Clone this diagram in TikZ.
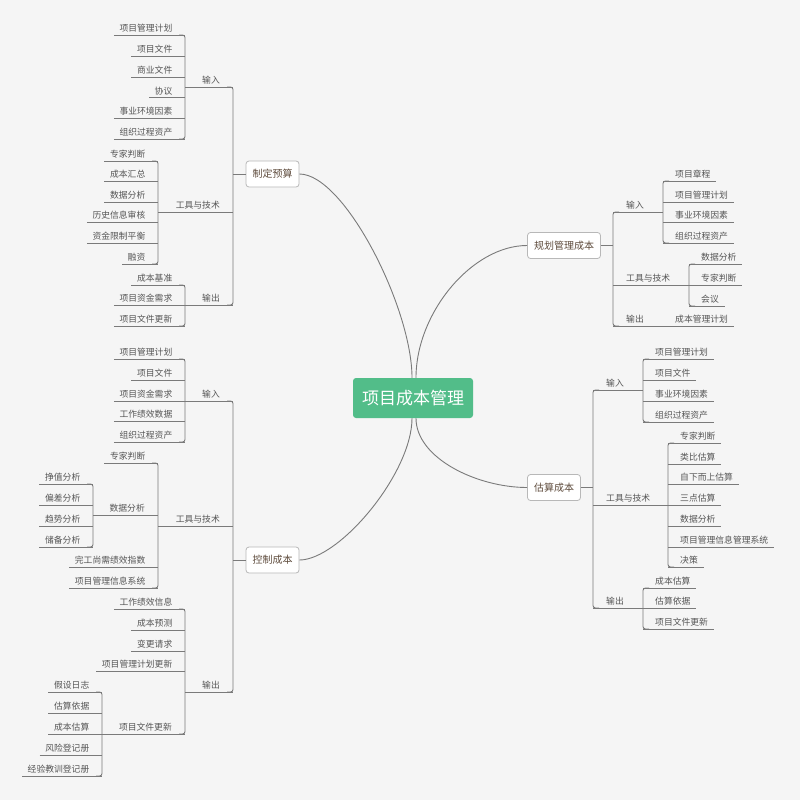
\documentclass[tikz,border=0pt]{standalone}
\usepackage{fontspec}
\setmainfont{Noto Sans CJK SC}
\usetikzlibrary{calc}
\definecolor{bg}{HTML}{F5F5F5}
\definecolor{lnc}{HTML}{7A7A7A}
\definecolor{leaftxt}{HTML}{555555}
\definecolor{brtxt}{HTML}{5E4B3C}
\definecolor{brbd}{HTML}{B8B8B8}
\definecolor{ctr}{HTML}{52BD89}
\tikzset{
  ln/.style={draw=lnc, line width=0.9pt},
  leaf/.style={inner sep=0pt, text=leaftxt, font=\fontsize{8.8}{10}\selectfont},
  cat/.style={inner sep=0pt, text=leaftxt, font=\fontsize{8.8}{10}\selectfont},
  branch/.style={draw=brbd, fill=white, rounded corners=3pt, line width=0.8pt, text=brtxt,
     font=\fontsize{10}{12}\selectfont, inner xsep=6.5pt, inner ysep=0pt, minimum height=26pt},
  center/.style={fill=ctr, rounded corners=3pt, text=white, font=\fontsize{17}{20}\selectfont,
     minimum width=120pt, minimum height=40pt, inner sep=0pt}
}
% left-side leaf: name, bracket x, line y, text
\newcommand\Lleaf[4]{%
  \node[leaf, anchor=base east] (#1) at (#2-12.5,#3-3.5) {#4};
  \draw[ln] ($(#1.base west)+(-5.5,3.5)$) -- (#2,#3);}
% right-side leaf
\newcommand\Rleaf[4]{%
  \node[leaf, anchor=base west] (#1) at (#2+12,#3-3.5) {#4};
  \draw[ln] (#2,#3) -- ($(#1.base east)+(5.5,3.5)$);}
% left-side category: name, parent bracket x, child bracket x, y, text
\newcommand\Lcat[5]{%
  \node[cat, anchor=base east] (#1) at (#2-13,#4-3.5) {#5};
  \draw[ln] (#3,#4) -- (#2,#4);}
\newcommand\Rcat[5]{%
  \node[cat, anchor=base west] (#1) at (#2+13,#4-3.5) {#5};
  \draw[ln] (#2,#4) -- (#3,#4);}
% brackets: x, top y, bottom y
\newcommand\Lbr[3]{\draw[ln, rounded corners=2.5pt] (#1-6,#2) -- (#1,#2) -- (#1,#3) -- (#1-6,#3);}
\newcommand\Rbr[3]{\draw[ln, rounded corners=2.5pt] (#1+6,#2) -- (#1,#2) -- (#1,#3) -- (#1+6,#3);}

\begin{document}
\begin{tikzpicture}[x=1pt,y=-1pt]
\fill[bg] (0,0) rectangle (800,800);
\useasboundingbox (0,0) rectangle (800,800);

\node[center] (c) at (413,398) {项目成本管理};
\node[branch] (b1) at (272.5,174) {制定预算};
\node[branch] (b2) at (564,245.5) {规划管理成本};
\node[branch] (b3) at (554,487.5) {估算成本};
\node[branch] (b4) at (272.5,560) {控制成本};

\draw[ln] ([xshift=-1pt]c.north) .. controls +(0,-70) and +(45,0) .. (b1.east);
\draw[ln] ([xshift=3pt]c.north) .. controls +(0,-65) and +(-55,0) .. (b2.west);
\draw[ln] ([xshift=-1pt]c.south) .. controls +(0,55) and +(40,0) .. (b4.east);
\draw[ln] ([xshift=3pt]c.south) .. controls +(0,40) and +(-50,0) .. (b3.west);

% ===== 制定预算 =====
\draw[ln] (b1.west) -- (233,174);
\Lbr{233}{87}{305}
\Lcat{a1}{233}{185}{87}{输入}
\Lcat{a2}{233}{158}{212}{工具与技术}
\Lcat{a3}{233}{185}{305}{输出}
\Lbr{185}{35}{139}
\Lleaf{a11}{185}{35}{项目管理计划}
\Lleaf{a12}{185}{56}{项目文件}
\Lleaf{a13}{185}{77}{商业文件}
\Lleaf{a14}{185}{97.5}{协议}
\Lleaf{a15}{185}{118}{事业环境因素}
\Lleaf{a16}{185}{139}{组织过程资产}
\Lbr{158}{161}{264}
\Lleaf{a21}{158}{161}{专家判断}
\Lleaf{a22}{158}{181}{成本汇总}
\Lleaf{a23}{158}{202}{数据分析}
\Lleaf{a24}{158}{222}{历史信息审核}
\Lleaf{a25}{158}{243}{资金限制平衡}
\Lleaf{a26}{158}{264}{融资}
\Lbr{185}{285}{326}
\Lleaf{a31}{185}{285}{成本基准}
\Lleaf{a32}{185}{305}{项目资金需求}
\Lleaf{a33}{185}{326}{项目文件更新}

% ===== 规划管理成本 =====
\draw[ln] (b2.east) -- (613,245.5);
\Rbr{613}{212}{326}
\Rcat{p1}{613}{663}{212}{输入}
\Rcat{p2}{613}{689}{285}{工具与技术}
\Rcat{p3}{613}{663}{326}{输出}
\Rbr{663}{181}{243}
\Rleaf{p11}{663}{181}{项目章程}
\Rleaf{p12}{663}{202}{项目管理计划}
\Rleaf{p13}{663}{222}{事业环境因素}
\Rleaf{p14}{663}{243}{组织过程资产}
\Rbr{689}{264}{306}
\Rleaf{p21}{689}{264}{数据分析}
\Rleaf{p22}{689}{285}{专家判断}
\Rleaf{p23}{689}{306}{会议}
\Rleaf{p31}{663}{326}{成本管理计划}

% ===== 估算成本 =====
\draw[ln] (b3.east) -- (593,487.5);
\Rbr{593}{390}{608}
\Rcat{e1}{593}{643}{390}{输入}
\Rcat{e2}{593}{668}{505}{工具与技术}
\Rcat{e3}{593}{643}{608}{输出}
\Rbr{643}{359}{422}
\Rleaf{e11}{643}{359}{项目管理计划}
\Rleaf{e12}{643}{380}{项目文件}
\Rleaf{e13}{643}{401}{事业环境因素}
\Rleaf{e14}{643}{422}{组织过程资产}
\Rbr{668}{443}{567}
\Rleaf{e21}{668}{443}{专家判断}
\Rleaf{e22}{668}{464}{类比估算}
\Rleaf{e23}{668}{484}{自下而上估算}
\Rleaf{e24}{668}{505}{三点估算}
\Rleaf{e25}{668}{526}{数据分析}
\Rleaf{e26}{668}{547}{项目管理信息管理系统}
\Rleaf{e27}{668}{567}{决策}
\Rbr{643}{588}{629}
\Rleaf{e31}{643}{588}{成本估算}
\Rleaf{e32}{643}{608}{估算依据}
\Rleaf{e33}{643}{629}{项目文件更新}

% ===== 控制成本 =====
\draw[ln] (b4.west) -- (233,560);
\Lbr{233}{401}{692}
\Lcat{k1}{233}{185}{401}{输入}
\Lcat{k2}{233}{158}{526}{工具与技术}
\Lcat{k3}{233}{185}{692}{输出}
\Lbr{185}{359}{442}
\Lleaf{k11}{185}{359}{项目管理计划}
\Lleaf{k12}{185}{380}{项目文件}
\Lleaf{k13}{185}{401}{项目资金需求}
\Lleaf{k14}{185}{421}{工作绩效数据}
\Lleaf{k15}{185}{442}{组织过程资产}
\Lbr{158}{463}{588}
\Lleaf{k21}{158}{463}{专家判断}
\Lcat{k22}{158}{93}{515}{数据分析}
\Lleaf{k23}{158}{567}{完工尚需绩效指数}
\Lleaf{k24}{158}{588}{项目管理信息系统}
\Lbr{93}{484}{547}
\Lleaf{k221}{93}{484}{挣值分析}
\Lleaf{k222}{93}{505}{偏差分析}
\Lleaf{k223}{93}{526}{趋势分析}
\Lleaf{k224}{93}{547}{储备分析}
\Lbr{185}{609}{734}
\Lleaf{k31}{185}{609}{工作绩效信息}
\Lleaf{k32}{185}{630}{成本预测}
\Lleaf{k33}{185}{651}{变更请求}
\Lleaf{k34}{185}{671}{项目管理计划更新}
\Lcat{k35}{185}{102}{734}{项目文件更新}
\Lbr{102}{692}{776}
\Lleaf{k351}{102}{692}{假设日志}
\Lleaf{k352}{102}{713}{估算依据}
\Lleaf{k353}{102}{734}{成本估算}
\Lleaf{k354}{102}{755}{风险登记册}
\Lleaf{k355}{102}{776}{经验教训登记册}
\end{tikzpicture}
\end{document}
